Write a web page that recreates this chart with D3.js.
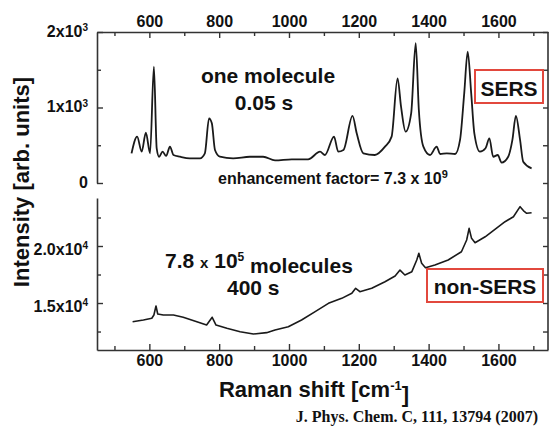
<!DOCTYPE html>
<html><head><meta charset="utf-8">
<script src="https://cdn.jsdelivr.net/npm/d3@7/dist/d3.min.js"></script>
<style>
body{margin:0;background:#fff;}
svg{display:block;}
text{font-family:"Liberation Sans",Arial,sans-serif;font-weight:bold;fill:#111;}
</style></head>
<body>
<svg id="c" width="550" height="432"></svg>
<script>
// ---- data ----
const sersShift = [549,565,578,590,602,613,621,628,638,648,659,669,688,716,745,759,771,779,788,802,840,888,926,960,1008,1055,1089,1103,1129,1141,1156,1182,1194,1213,1246,1275,1294,1311,1321,1334,1350,1363,1372,1385,1404,1423,1433,1452,1476,1490,1502,1512,1522,1531,1547,1563,1574,1585,1598,1609,1628,1640,1650,1662,1671,1695];
const sersIntensity = [393,614,415,667,393,1541,460,348,415,358,481,371,348,327,327,393,857,791,437,348,327,348,348,300,314,314,415,371,614,415,437,888,658,393,371,481,614,1387,1011,680,923,1851,967,481,371,481,384,393,384,570,1188,1740,1188,658,415,460,592,348,371,270,348,570,888,570,282,194];

const nonSersShift = [552,583,607,613,619,624,640,669,697,736,764,780,791,822,860,898,936,960,998,1036,1075,1113,1151,1180,1191,1203,1237,1275,1304,1318,1332,1352,1366,1372,1380,1391,1418,1456,1494,1509,1516,1523,1533,1562,1590,1619,1643,1662,1672,1681,1695];
const nonSersIntensity = [13360,13510,13660,13950,14740,14040,13950,13950,13750,13360,13070,13750,13070,12780,12480,12280,12400,12630,12920,13510,14240,14970,15410,15850,16290,15990,16290,16870,17370,17890,17460,17750,18770,19360,18480,18100,18330,18770,19500,20530,21550,20670,20290,20810,21460,22130,22570,23450,23090,22870,22920];

const shiftTicks = [500,600,700,800,900,1000,1100,1200,1300,1400,1500,1600,1700];
const shiftLabels = [600,800,1000,1200,1400,1600];
const sersTicks = [0,500,1000,1500,2000];
const sersLabels = {0:["0",""],1000:["1x10","3"],2000:["2x10","3"]};
const nonSersTicks = [12500,15000,17500,20000,22500];
const nonSersLabels = {15000:["1.5x10","4"],20000:["2.0x10","4"]};

// ---- layout ----
const svg = d3.select("#c");
const L = 97, R = 548, T = 32, B = 350, topBottom = 183, botTop = 198;
const x = d3.scaleLinear().domain([450,1742]).range([L,R]);
const yTop = d3.scaleLinear().domain([0,2000]).range([topBottom,T]);
const yBot = d3.scaleLinear().domain([10880,24210]).range([B,botTop]);
const axisColor = "#333";

function styleAxis(g, majorSet, majorLen, minorLen, orient){
  g.select(".domain").attr("stroke",axisColor).attr("stroke-width",1.6);
  g.selectAll(".tick line").attr("stroke",axisColor).attr("stroke-width",1.4)
    .each(function(d){
      const len = majorSet.has(d) ? majorLen : minorLen;
      const s = d3.select(this);
      if(orient==="top") s.attr("y2",len);
      else if(orient==="bottom") s.attr("y2",-len);
      else if(orient==="left") s.attr("x2",len);
      else s.attr("x2",-len);
    });
  g.selectAll(".tick text").attr("fill","#111").style("font-size","16px").style("font-family",'"Liberation Sans",Arial,sans-serif').style("font-weight","bold");
}

// top x axis
const gxTop = svg.append("g").attr("transform",`translate(0,${T})`)
  .call(d3.axisTop(x).tickValues(shiftTicks).tickSize(-6).tickSizeOuter(0).tickPadding(5)
  .tickFormat(d=>shiftLabels.includes(d)?d:""));
styleAxis(gxTop,new Set(shiftLabels),6,4,"top");

// bottom x axis
const gxBot = svg.append("g").attr("transform",`translate(0,${B})`)
  .call(d3.axisBottom(x).tickValues(shiftTicks).tickSize(-6).tickSizeOuter(0).tickPadding(5)
  .tickFormat(d=>shiftLabels.includes(d)?d:""));
styleAxis(gxBot,new Set(shiftLabels),6,4,"bottom");

// left/right y axes
function supLabels(g, labels){
  g.selectAll(".tick text").each(function(d){
    const t = d3.select(this); t.text(null);
    const lab = labels[d]; if(!lab) return;
    t.append("tspan").text(lab[0]);
    if(lab[1]) t.append("tspan").attr("dy","-0.55em").style("font-size","10px").text(lab[1]);
  });
}
const gyTopL = svg.append("g").attr("transform",`translate(${L},0)`)
  .call(d3.axisLeft(yTop).tickValues(sersTicks).tickSize(-6).tickSizeOuter(0).tickPadding(9));
styleAxis(gyTopL,new Set([0,1000,2000]),6,4,"left");
supLabels(gyTopL,sersLabels);
gyTopL.selectAll(".tick text").attr("dy","0.25em");

const gyBotL = svg.append("g").attr("transform",`translate(${L},0)`)
  .call(d3.axisLeft(yBot).tickValues(nonSersTicks).tickSize(-6).tickSizeOuter(0).tickPadding(9));
styleAxis(gyBotL,new Set([15000,20000]),6,4,"left");
supLabels(gyBotL,nonSersLabels);
gyBotL.selectAll(".tick text").attr("dy","0.5em");

const gyR = svg.append("g").attr("transform",`translate(${R},0)`);
gyR.append("line").attr("x1",0).attr("x2",0).attr("y1",T).attr("y2",B).attr("stroke",axisColor).attr("stroke-width",1.6);
const gyTopR = svg.append("g").attr("transform",`translate(${R},0)`)
  .call(d3.axisRight(yTop).tickValues(sersTicks).tickSize(-5).tickSizeOuter(0).tickFormat(""));
styleAxis(gyTopR,new Set(),5,5,"right");
gyTopR.select(".domain").remove();
const gyBotR = svg.append("g").attr("transform",`translate(${R},0)`)
  .call(d3.axisRight(yBot).tickValues(nonSersTicks).tickSize(-5).tickSizeOuter(0).tickFormat(""));
styleAxis(gyBotR,new Set(),5,5,"right");
gyBotR.select(".domain").remove();

// spectra
const sersData = sersShift.map((s,i)=>[s,sersIntensity[i]]);
const nonData = nonSersShift.map((s,i)=>[s,nonSersIntensity[i]]);
svg.append("path").datum(sersData)
  .attr("d",d3.line().x(d=>x(d[0])).y(d=>yTop(d[1])).curve(d3.curveMonotoneX))
  .attr("fill","none").attr("stroke","#1a1a1a").attr("stroke-width",1.8).attr("stroke-linejoin","round");
svg.append("path").datum(nonData)
  .attr("d",d3.line().x(d=>x(d[0])).y(d=>yBot(d[1])).curve(d3.curveLinear))
  .attr("fill","none").attr("stroke","#1a1a1a").attr("stroke-width",1.6).attr("stroke-linejoin","round");

// annotations
svg.append("text").attr("x",268).attr("y",83).attr("text-anchor","middle").style("font-size","21px").text("one molecule");
svg.append("text").attr("x",264).attr("y",110).attr("text-anchor","middle").style("font-size","21px").text("0.05 s");
const ef = svg.append("text").attr("x",218).attr("y",184).style("font-size","16px");
ef.append("tspan").text("enhancement factor= 7.3 x 10");
ef.append("tspan").attr("dy","-0.55em").style("font-size","11px").text("9");

const mol = svg.append("text").attr("x",165).attr("y",268).style("font-size","21px");
mol.append("tspan").text("7.8 ");
mol.append("tspan").style("font-size","15px").text("x");
mol.append("tspan").text(" 10");
mol.append("tspan").attr("dy","-0.55em").style("font-size","12px").text("5");
mol.append("tspan").attr("dy","0.55em").text(" molecules");
svg.append("text").attr("x",227).attr("y",295).style("font-size","21px").text("400 s");

const red = "#e2483d";
svg.append("rect").attr("x",475).attr("y",70).attr("width",68).attr("height",33).attr("fill","none").attr("stroke",red).attr("stroke-width",2);
svg.append("text").attr("x",509).attr("y",96).attr("text-anchor","middle").style("font-size","21px").text("SERS");
svg.append("rect").attr("x",427).attr("y",269).attr("width",116).attr("height",33).attr("fill","none").attr("stroke",red).attr("stroke-width",2);
svg.append("text").attr("x",485).attr("y",294).attr("text-anchor","middle").style("font-size","21px").text("non-SERS");

// axis titles
const xt = svg.append("text").attr("x",314).attr("y",397).attr("text-anchor","middle").style("font-size","22px");
xt.append("tspan").text("Raman shift [cm");
xt.append("tspan").attr("dy","-0.55em").style("font-size","13px").text("-1");
xt.append("tspan").attr("dy","0.55em").text("]");
svg.append("text").attr("transform","translate(29,182) rotate(-90)").attr("text-anchor","middle").style("font-size","22px").text("Intensity [arb. units]");

svg.append("text").attr("x",538).attr("y",422).attr("text-anchor","end")
  .style("font-family",'"Liberation Serif","Times New Roman",serif').style("font-size","16px").text("J. Phys. Chem. C, 111, 13794 (2007)");
</script>
</body></html>
